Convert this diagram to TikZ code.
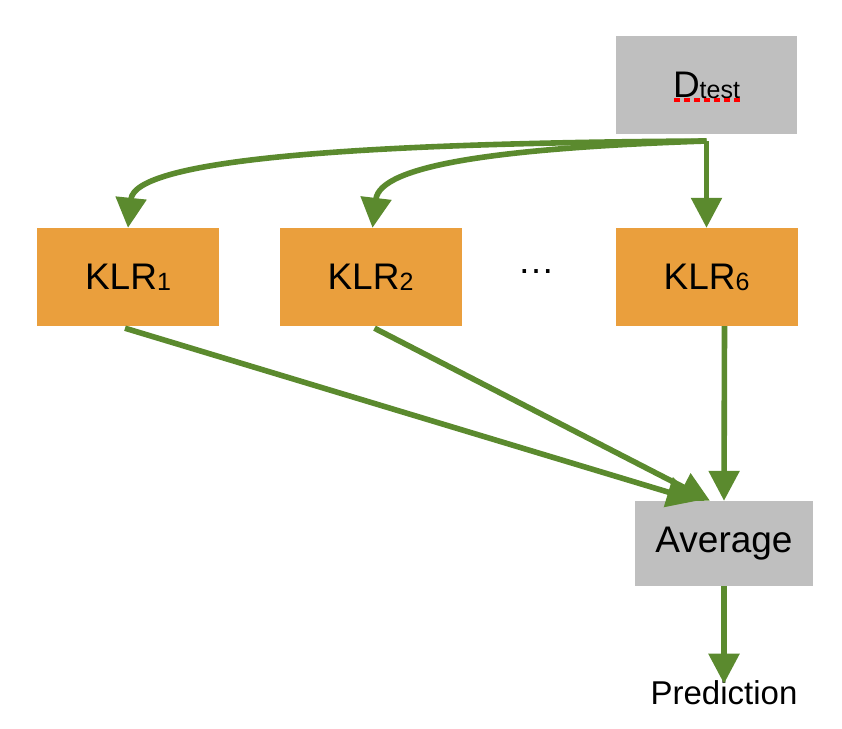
\documentclass[tikz,border=0pt]{standalone}
\usepackage{fontspec}
\setmainfont{Liberation Sans}
\usetikzlibrary{arrows.meta}
\definecolor{arrgreen}{RGB}{91,138,46}
\definecolor{boxorange}{RGB}{234,159,61}
\definecolor{boxgray}{RGB}{191,191,191}
\begin{document}
\begin{tikzpicture}[x=1pt,y=-1pt,
  graybox/.style={fill=boxgray, draw=none, minimum width=181pt, minimum height=98pt, inner sep=0pt, font=\fontsize{37}{40}\selectfont},
  klrbox/.style={fill=boxorange, draw=none, minimum width=182pt, minimum height=98pt, inner sep=0pt, font=\fontsize{37}{40}\selectfont},
  conn/.style={draw=arrgreen, line width=5.6pt, -{Triangle[width=30pt,length=30pt]}}]
\useasboundingbox (0,0) rectangle (842,728);
\newcommand{\sbx}[1]{\raisebox{-1pt}{\fontsize{25}{25}\selectfont #1}}
\node[graybox] (D) at (706.5,85) {D\sbx{test}};
\node[klrbox] (K1) at (128,277) {KLR\sbx{1}};
\node[klrbox] (K2) at (370.5,277) {KLR\sbx{2}};
\node[klrbox] (K6) at (706.5,277) {KLR\sbx{6}};
\node[font=\fontsize{37}{40}\selectfont, inner sep=0pt] (dots) at (536,272) {…};
\node[graybox, minimum width=178pt, minimum height=85pt] (avg) at (724,543.5) {Average};
\node[font=\fontsize{33}{36}\selectfont, inner sep=0pt] (pred) at (724,693) {Prediction};
\coordinate (ds) at (706.5,141);
% red spell-check underline
\draw[red, line width=4pt, dash pattern=on 6pt off 4pt] (674,100) -- (743,100);
\draw[conn] (ds) .. controls (350,143) and (135,160) .. (K1.north);
\draw[conn] (ds) .. controls (500,148) and (380,165) .. ([xshift=2pt]K2.north);
\draw[conn] (ds) -- (K6.north);
\draw[conn] ([xshift=-3pt,yshift=-2pt]K1.south) -- ([xshift=-27pt]avg.north);
\draw[conn] ([xshift=4pt,yshift=-2pt]K2.south) -- ([xshift=-14pt]avg.north);
\draw[conn] ([xshift=18pt]K6.south) -- (avg.north);
\draw[conn] (avg.south) -- ([yshift=-3pt]pred.north);
\end{tikzpicture}
\end{document}
